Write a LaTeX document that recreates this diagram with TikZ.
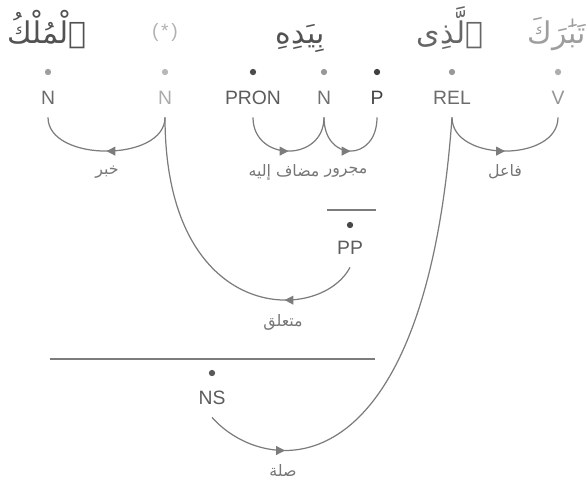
\documentclass[tikz,border=0pt]{standalone}
\usepackage{fontspec}
\setmainfont{Liberation Sans}
\newfontfamily\arabicfont[Script=Arabic]{DejaVu Sans}
\TeXXeTstate=1
\usepackage{xcolor}
\usepackage{tikz}
\usetikzlibrary{arrows.meta, decorations.markings}

\definecolor{arcgray}{HTML}{7C7C7C}
\definecolor{labelgray}{HTML}{767676}

\begin{document}
\begin{tikzpicture}[
  word/.style={font=\arabicfont\fontsize{17}{20}\selectfont, anchor=base, inner sep=0pt},
  tag/.style={font=\fontsize{11}{13}\selectfont, minimum height=0.76cm, inner sep=0pt},
  pin/.style={circle, inner sep=0pt, minimum size=3.6pt},
  rel/.style={font=\arabicfont\fontsize{9}{11}\selectfont, text=labelgray, inner sep=1pt},
  arc/.style={color=arcgray, line width=0.7pt, postaction={decorate},
    decoration={markings, mark=at position #1 with {\arrow{Triangle[length=5pt,width=5pt]}}}},
  arc/.default=0.5,
  span/.style={draw=arcgray, line width=0.7pt}
]
\useasboundingbox (0,0) rectangle (11.72,-9.66);

% words, right to left
\node[word, text=black!38] (w1) at (11.14,-0.86) {\beginR تَبَٰرَكَ\endR};
\node[word, text=black!60] (w2) at (9.00,-0.86) {\beginR ٱلَّذِى\endR};
\node[word, text=black!68] (w3) at (6.00,-0.86) {\beginR بِيَدِهِ\endR};
\node[word, text=black!30, font=\fontsize{11}{13}\selectfont] (w4) at (3.30,-0.74) {(\hspace{1.5pt}*\hspace{1.5pt})};
\node[word, text=black!68] (w5) at (0.94,-0.86) {\beginR ٱلْمُلْكُ\endR};

% part-of-speech tags
\node[pin, fill=black!38] (d1) at (0.96,-1.44) {};
\node[pin, fill=black!28] (d2) at (3.30,-1.44) {};
\node[pin, fill=black!70] (d3) at (5.06,-1.44) {};
\node[pin, fill=black!40] (d4) at (6.48,-1.44) {};
\node[pin, fill=black!75] (d5) at (7.54,-1.44) {};
\node[pin, fill=black!40] (d6) at (9.04,-1.44) {};
\node[pin, fill=black!32] (d7) at (11.16,-1.44) {};

\node[tag, text=black!58] (n1) at (0.96,-1.96) {N};
\node[tag, text=black!33] (n2) at (3.30,-1.96) {N};
\node[tag, text=black!64] (pron) at (5.06,-1.96) {PRON};
\node[tag, text=black!56] (n3) at (6.48,-1.96) {N};
\node[tag, text=black!74] (p) at (7.54,-1.96) {P};
\node[tag, text=black!58] (rel) at (9.04,-1.96) {REL};
\node[tag, text=black!42] (v) at (11.16,-1.96) {V};

% phrase nodes
\draw[span] (6.54,-4.20) -- (7.52,-4.20);
\node[pin, fill=black!72] (d8) at (7.00,-4.50) {};
\node[tag, text=black!64] (pp) at (7.00,-4.96) {PP};

\draw[span] (1.00,-7.18) -- (7.50,-7.18);
\node[pin, fill=black!65] (d9) at (4.24,-7.46) {};
\node[tag, text=black!64] (ns) at (4.24,-7.96) {NS};

% dependency arcs
\draw[arc] (n2.south) .. controls +(0,-0.9) and +(0,-0.9) .. (n1.south);
\draw[arc] (pron.south) .. controls +(0,-0.9) and +(0,-0.9) .. (n3.south);
\draw[arc] (n3.south) .. controls +(0,-0.9) and +(0,-0.9) .. (p.south);
\draw[arc] (rel.south) .. controls +(0,-0.9) and +(0,-0.9) .. (v.south);
\draw[arc=0.24] (pp.south) .. controls +(-0.6,-1.14) and +(0,-4.16) .. (n2.south);
\draw[arc=0.17] (ns.south) .. controls +(1.06,-1.2) and +(-0.54,-7.56) .. (rel.south);

% relation labels
\node[rel] (l1) at (2.14,-3.44) {\beginR خبر\endR};
\node[rel] (l2) at (5.68,-3.44) {\beginR مضاف إليه\endR};
\node[rel] (l3) at (6.92,-3.44) {\beginR مجرور\endR};
\node[rel] (l4) at (10.10,-3.44) {\beginR فاعل\endR};
\node[rel] (l5) at (5.66,-6.44) {\beginR متعلق\endR};
\node[rel] (l6) at (5.66,-9.40) {\beginR صلة\endR};
\end{tikzpicture}
\end{document}
